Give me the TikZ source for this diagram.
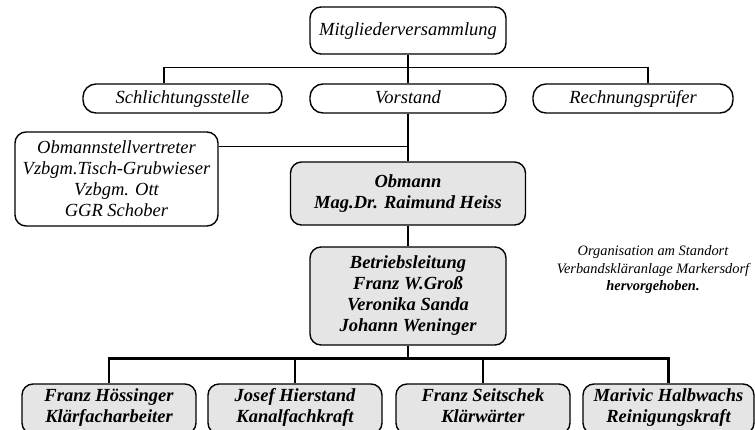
\documentclass[tikz,border=0pt]{standalone}
\usepackage{fontspec}
\setmainfont{Liberation Serif}
\usetikzlibrary{positioning}

\begin{document}
\begin{tikzpicture}[x=1pt,y=-1pt,node distance=2cm,on grid,
	org/.style={draw,line width=1.4pt,rounded corners=11pt,align=center,inner sep=2pt,font=\fontsize{18.5}{21}\selectfont\itshape},
	pill/.style={org,rounded corners=13pt,minimum width=196pt,minimum height=29pt,text height=13pt,text depth=4pt},
	hl/.style={org,fill=black!10,font=\fontsize{18.5}{21}\selectfont\bfseries\itshape},
	staff/.style={hl,minimum width=174pt,minimum height=50pt,execute at begin node=\strut,execute at end node=\strut},
	link/.style={line width=1.3pt},
	heavy/.style={line width=2.6pt}]
		
		\useasboundingbox (0,0) rectangle (755,429);
		\clip (0,0) rectangle (755,429);
		
		%Org boxes
		\node[org,minimum width=196pt,minimum height=47pt,text height=13pt,text depth=4pt] (mv) at (408,30.5) {Mitgliederversammlung};
		\node[pill] (vorstand) [below=68pt of mv] {Vorstand};
		\node[pill,minimum width=199pt] (schl) [left=225.5pt of vorstand] {Schlichtungsstelle};
		\node[pill,minimum width=200pt] (rech) [right=225pt of vorstand] {Rechnungsprüfer};
		\node[hl,minimum width=235pt,minimum height=63pt] (obmann) [below=95pt of vorstand] {Obmann\\Mag.Dr. Raimund Heiss};
		\node[org,minimum width=203pt,minimum height=94pt] (stv) [above left=14.5pt and 291.5pt of obmann] {Obmannstellvertreter\\Vzbgm.Tisch-Grubwieser\\Vzbgm. Ott\\GGR Schober};
		\node[hl,minimum width=196pt,minimum height=98pt] (betrieb) [below=102.5pt of obmann] {Betriebsleitung\\Franz W.Groß\\Veronika Sanda\\Johann Weninger};
		\node[staff] (hoess) at (109,409) {Franz Hössinger\\Klärfacharbeiter};
		\node[staff] (hierst) at (295,409) {Josef Hierstand\\Kanalfachkraft};
		\node[staff] (seitsch) at (483,409) {Franz Seitschek\\Klärwärter};
		\node[staff,minimum width=171pt] (halbw) at (668.5,409) {Marivic Halbwachs\\Reinigungskraft};
		
		%Note
		\node[font=\fontsize{14.4}{17.5}\selectfont\itshape,align=center] (note) at (653,270) {Organisation am Standort\\Verbandskläranlage Markersdorf\\\textbf{hervorgehoben.}};
		
		%Org lines
		\draw[link] (mv) -- (vorstand);
		\draw[link] ([xshift=-18.5pt]schl.north) -- ++(0,-16) -| ([xshift=15pt]rech.north);
		\draw[link] (vorstand) -- (obmann);
		\draw[link] ([yshift=32.5pt]stv.east) -| (vorstand);
		\draw[heavy] (obmann) -- (betrieb);
		\coordinate[below=13pt of betrieb.south] (bar);
		\draw[heavy] (betrieb) -- (bar);
		\draw[heavy] (hoess) |- (bar) -| (halbw);
		\draw[heavy] (hierst) -- (hierst |- bar);
		\draw[heavy] (seitsch) -- (seitsch |- bar);
		
\end{tikzpicture}
\end{document}
